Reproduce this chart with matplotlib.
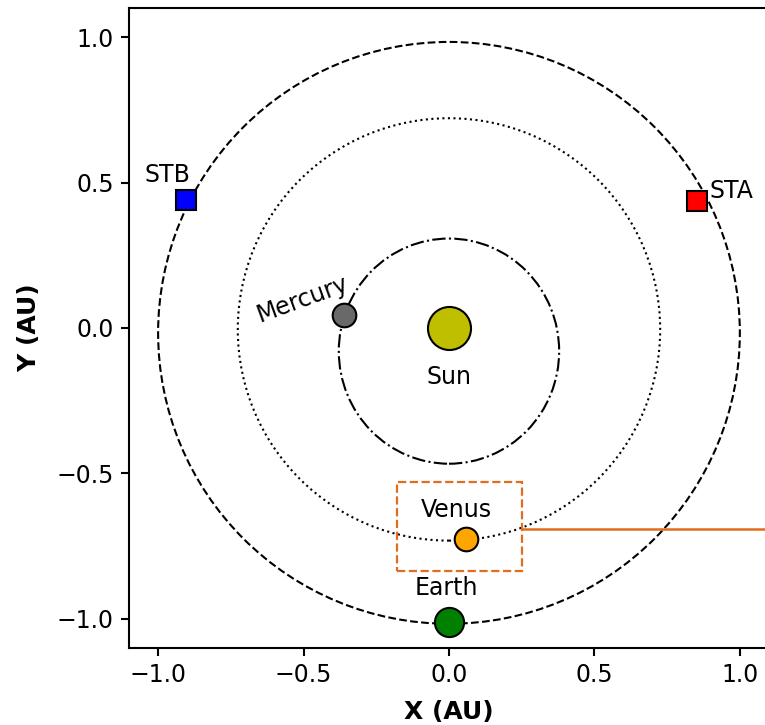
import matplotlib
matplotlib.use("Agg")
import matplotlib.pyplot as plt
from matplotlib.patches import Ellipse, Rectangle

# orbits: semi-major axis (AU), eccentricity, linestyle
orbit_names = ["Mercury", "Venus", "Earth"]
orbit_a = [0.387, 0.726, 1.0]
orbit_e = [0.2056, 0.0068, 0.0167]
orbit_ls = ["-.", ":", "--"]

# body positions (AU)
body_names = ["Sun", "Mercury", "Venus", "Earth"]
body_x = [0.0, -0.361, 0.058, 0.0]
body_y = [0.0, 0.045, -0.724, -1.012]
body_colors = ["y", "dimgray", "orange", "green"]
body_sizes = [31, 17, 17, 21]

# spacecraft
sc_names = ["STB", "STA"]
sc_x = [-0.904, 0.852]
sc_y = [0.439, 0.436]
sc_colors = ["b", "r"]

# zoom box around Venus
box_x = [-0.18, 0.25]
box_y = [-0.835, -0.53]

ORANGE = "#e36c1f"

fig = plt.figure(figsize=(7.65, 7.25), dpi=100)
ax = fig.add_axes([0.1686, 0.1062, 0.8366, 0.8828])

for a, e, ls in zip(orbit_a, orbit_e, orbit_ls):
    b = a * (1 - e**2) ** 0.5
    c = a * e
    ax.add_patch(Ellipse((0, -c), 2 * b, 2 * a, fill=False, ls=ls,
                         lw=1.5, ec="k", zorder=1))

for x, y, col, ms in zip(body_x, body_y, body_colors, body_sizes):
    ax.plot(x, y, "o", color=col, ms=ms, mec="k", mew=1.5, zorder=3)

for x, y, col in zip(sc_x, sc_y, sc_colors):
    ax.plot(x, y, "s", color=col, ms=14, mec="k", mew=1.5, zorder=3)

fs = 17
ax.text(-0.969, 0.525, "STB", fontsize=fs, ha="center", va="center")
ax.text(0.895, 0.47, "STA", fontsize=fs, ha="left", va="center")
ax.text(-0.505, 0.10, "Mercury", fontsize=fs, ha="center", va="center", rotation=20)
ax.text(0.0, -0.168, "Sun", fontsize=fs, ha="center", va="center")
ax.text(0.027, -0.624, "Venus", fontsize=fs, ha="center", va="center")
ax.text(-0.01, -0.895, "Earth", fontsize=fs, ha="center", va="center")

ax.add_patch(Rectangle((box_x[0], box_y[0]), box_x[1] - box_x[0], box_y[1] - box_y[0],
                       fill=False, ec=ORANGE, ls="--", lw=1.6, zorder=4))
ax.plot([box_x[1], 1.3], [-0.69, -0.69], color=ORANGE, lw=1.8, clip_on=False, zorder=4)

ax.set_xlim(-1.1, 1.1)
ax.set_ylim(-1.1, 1.1)
ax.set_aspect("equal")
ax.set_xticks([-1.0, -0.5, 0.0, 0.5, 1.0])
ax.set_yticks([-1.0, -0.5, 0.0, 0.5, 1.0])
ax.tick_params(labelsize=fs, length=6, width=1.5, pad=5)
for s in ax.spines.values():
    s.set_linewidth(1.5)
ax.set_xlabel("X (AU)", fontsize=18, fontweight="bold", labelpad=9)
ax.set_ylabel("Y (AU)", fontsize=18, fontweight="bold", labelpad=11)

fig.savefig("out.png", dpi=100)
